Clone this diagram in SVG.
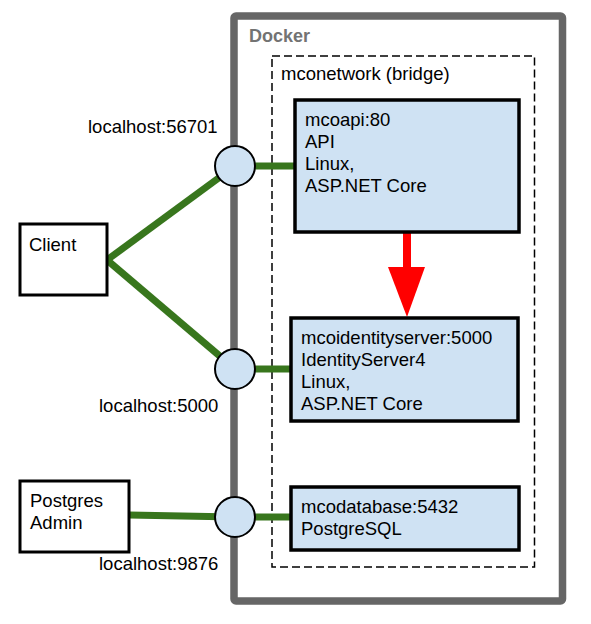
<svg xmlns="http://www.w3.org/2000/svg" width="591" height="624" viewBox="0 0 591 624">
  <defs>
    <style>
      text { font-family: "Liberation Sans", Arial, sans-serif; font-size: 18.5px; fill: #000; }
      .box { fill: #fff; stroke: #000; stroke-width: 3; }
      .svc { fill: #cfe2f3; stroke: #000; stroke-width: 3.5; }
      .port { fill: #cfe2f3; stroke: #000; stroke-width: 2; }
      .link { stroke: #38761d; stroke-width: 7; fill: none; }
    </style>
  </defs>
  <rect width="591" height="624" fill="#fff"/>

  <g id="docker">
    <rect x="234" y="16" width="328.5" height="585" rx="2" fill="#fff" stroke="#666" stroke-width="7.5"/>
    <text x="249" y="42" style="font-weight:bold;fill:#737373;font-size:18px">Docker</text>
  </g>

  <g id="mconetwork">
    <rect x="272" y="56" width="262.5" height="511" fill="none" stroke="#000" stroke-width="1.5" stroke-dasharray="8,4"/>
    <text x="281" y="80">mconetwork (bridge)</text>
  </g>

  <g id="connectors">
    <line class="link" x1="107" y1="260" x2="235" y2="166"/>
    <line class="link" x1="107" y1="260" x2="235" y2="369"/>
    <line class="link" x1="235" y1="166" x2="295" y2="166"/>
    <line class="link" x1="235" y1="369" x2="291" y2="369"/>
    <line class="link" x1="129" y1="515" x2="235" y2="517"/>
    <line class="link" x1="235" y1="517" x2="291" y2="517"/>
    <line x1="407" y1="233" x2="407" y2="268" stroke="#ff0000" stroke-width="8"/>
    <polygon points="388,267 425,267 407,317" fill="#ff0000"/>
  </g>

  <g id="port-56701">
    <circle class="port" cx="235" cy="166" r="20"/>
    <text x="88" y="133">localhost:56701</text>
  </g>
  <g id="port-5000">
    <circle class="port" cx="235" cy="369" r="20"/>
    <text x="99" y="412">localhost:5000</text>
  </g>
  <g id="port-9876">
    <circle class="port" cx="235" cy="517" r="20"/>
    <text x="99" y="570">localhost:9876</text>
  </g>

  <g id="client">
    <rect class="box" x="20" y="224" width="87" height="71"/>
    <text x="29" y="251">Client</text>
  </g>

  <g id="postgres-admin">
    <rect class="box" x="20" y="481" width="109" height="71"/>
    <text x="30" y="507">Postgres</text>
    <text x="30" y="529">Admin</text>
  </g>

  <g id="mcoapi">
    <rect class="svc" x="295" y="100" width="224" height="132"/>
    <text x="305" y="126">mcoapi:80</text>
    <text x="305" y="148">API</text>
    <text x="305" y="170">Linux,</text>
    <text x="305" y="192">ASP.NET Core</text>
  </g>

  <g id="mcoidentityserver">
    <rect class="svc" x="291" y="318" width="227" height="103"/>
    <text x="301" y="344">mcoidentityserver:5000</text>
    <text x="301" y="366">IdentityServer4</text>
    <text x="301" y="388">Linux,</text>
    <text x="301" y="410">ASP.NET Core</text>
  </g>

  <g id="mcodatabase">
    <rect class="svc" x="291" y="487" width="228" height="63"/>
    <text x="301" y="513">mcodatabase:5432</text>
    <text x="301" y="535">PostgreSQL</text>
  </g>
</svg>
